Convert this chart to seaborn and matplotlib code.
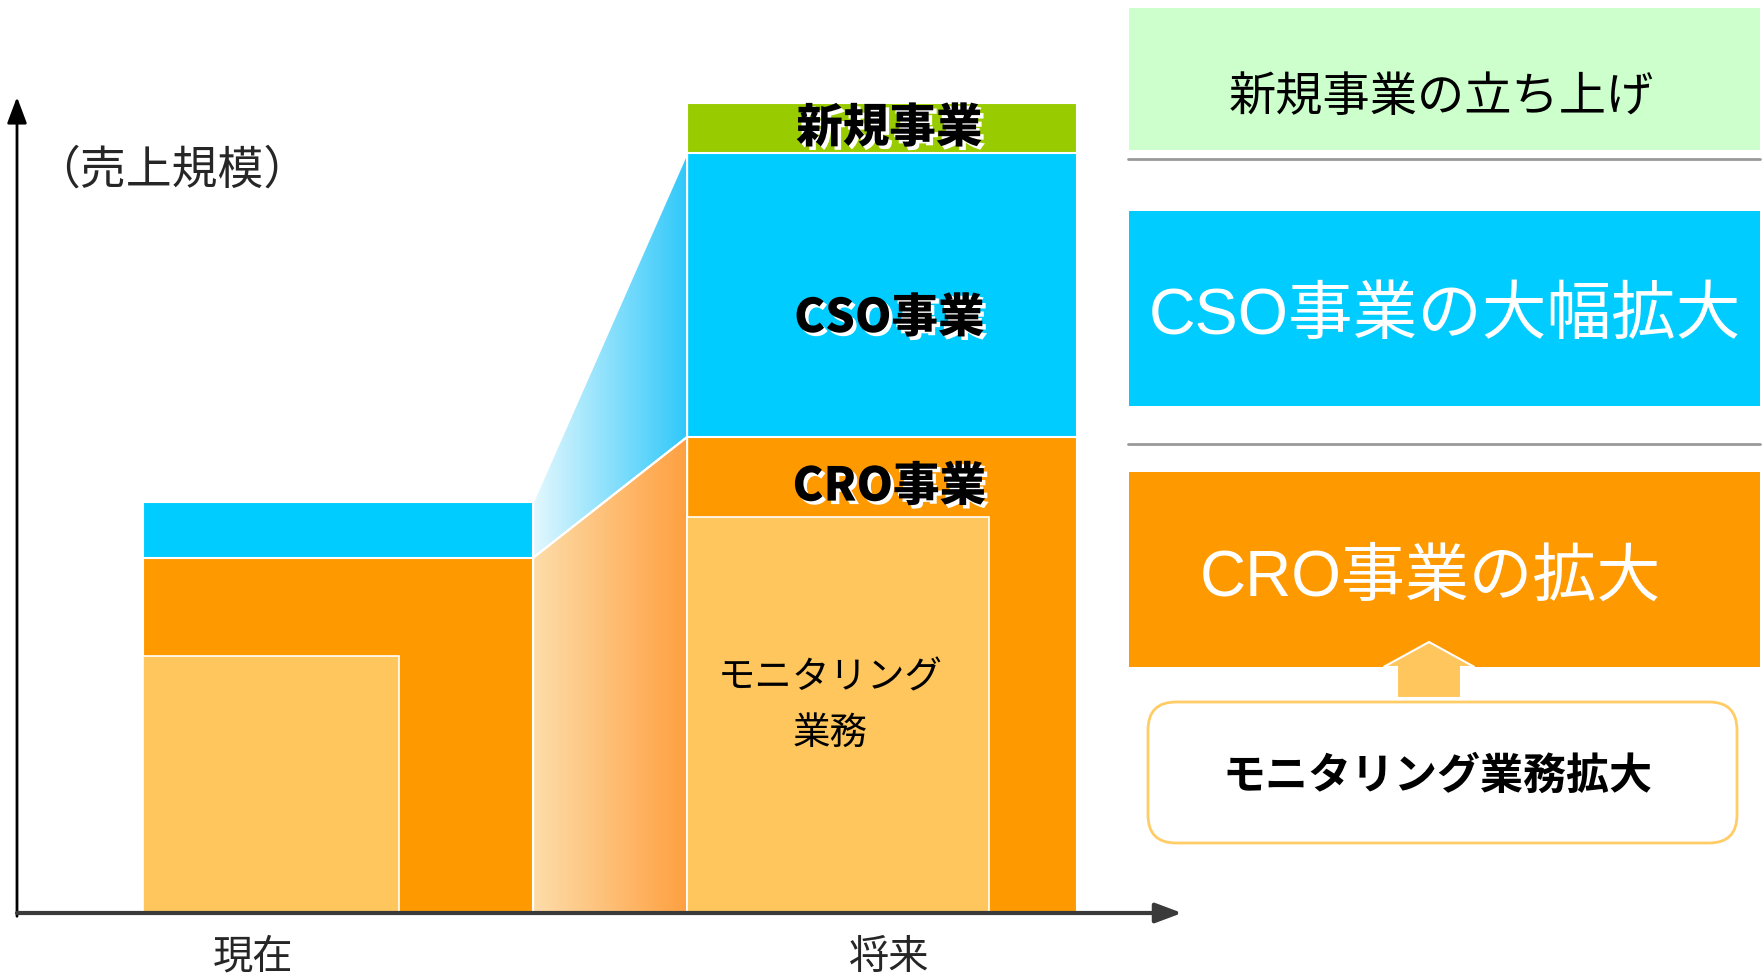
import matplotlib.pyplot as plt
import matplotlib.patches as mpatches
import matplotlib.patheffects as pe
from matplotlib.colors import LinearSegmentedColormap
import seaborn as sns
import pandas as pd
import numpy as np

# 売上規模 (現在の合計 = 100)
periods = ['現在', '将来']
monitoring = [62.5, 96.4]
cro_total = [86.4, 115.8]   # CRO事業 (モニタリング業務を含む)
cso = [13.6, 69.1]
new_biz = [0.0, 12.2]
inner_width = [0.47, 0.555]

bar_labels = ['新規事業', 'CSO事業', 'CRO事業']
bar_label_y = [190.8, 144.6, 103.6]
mon_label = 'モニタリング\n業務'
axis_title = '（売上規模）'
right_titles = ['新規事業の立ち上げ', 'CSO事業の大幅拡大', 'CRO事業の拡大']
right_sub = 'モニタリング業務拡大'

sns.set_style('white')
plt.rcParams['font.family'] = ['Noto Sans CJK JP', 'DejaVu Sans']

ORANGE = '#FF9900'
LIGHT = '#FEC65C'
BLUE = '#00CCFF'
GREEN = '#99CC00'

df = pd.DataFrame({'時期': periods, 'mon': monitoring, 'cro': cro_total,
                   'cso': cso, 'new': new_biz})
df['cso_top'] = df['cro'] + df['cso']
df['new_top'] = df['cso_top'] + df['new']

W, H = 1765, 974
fig = plt.figure(figsize=(W / 100, H / 100), dpi=100)
ax = fig.add_axes([17 / W, 61 / H, 1165 / W, 816 / H])
ax.patch.set_alpha(0)

bw = 0.717
# stacked bars, drawn back to front
for col, c in [('new_top', GREEN), ('cso_top', BLUE), ('cro', ORANGE)]:
    sns.barplot(data=df, x='時期', y=col, color=c, width=bw, saturation=1,
                edgecolor='white', linewidth=1.5, ax=ax, zorder=2)

# monitoring part, left aligned inside the CRO bar
xpos = np.arange(len(periods))
ax.bar(xpos - bw / 2, df['mon'], width=inner_width, align='edge',
       color=LIGHT, edgecolor='white', linewidth=1.2, zorder=3)

# gradient connectors between the two bars
x0, x1 = xpos[0] + bw / 2, xpos[1] - bw / 2


def grad_fill(verts, c0, c1):
    poly = mpatches.Polygon(verts, closed=True, facecolor='none',
                            edgecolor='white', lw=1.5, zorder=2.5)
    ax.add_patch(poly)
    cmap = LinearSegmentedColormap.from_list('g', [c0, c1])
    img = ax.imshow(np.linspace(0, 1, 256)[None, :], cmap=cmap,
                    extent=[x0, x1, 0, df['new_top'].max()], aspect='auto',
                    zorder=2.4, interpolation='bicubic')
    img.set_clip_path(poly)


grad_fill([(x0, df['cso_top'][0]), (x1, df['cso_top'][1]),
           (x1, df['cro'][1]), (x0, df['cro'][0])], '#E4F8FE', '#30C8FA')
grad_fill([(x0, df['cro'][0]), (x1, df['cro'][1]),
           (x1, 0), (x0, 0)], '#FDDDAA', '#FFA040')

ax.set_xlim(-0.59, 1.551)
ax.set_ylim(0, 198.5)
ax.set_xticks([])
ax.set_yticks([])
ax.set_xlabel('')
ax.set_ylabel('')
sns.despine(ax=ax, left=True, bottom=True)

# axis arrows
ax.annotate('', xy=(0, 1), xytext=(0, -0.004), xycoords='axes fraction',
            arrowprops=dict(arrowstyle='-|>,head_length=0.8,head_width=0.3',
                            color='black', lw=2, shrinkA=0, shrinkB=0,
                            mutation_scale=20), annotation_clip=False)
ax.annotate('', xy=(1, 0), xytext=(0, 0), xycoords='axes fraction',
            arrowprops=dict(arrowstyle='-|>,head_length=0.8,head_width=0.3',
                            color='#3A3A3A', lw=3, shrinkA=0, shrinkB=0,
                            mutation_scale=20), annotation_clip=False)

shadow = [pe.withSimplePatchShadow(offset=(2.5, -2.5), shadow_rgbFace='white',
                                   alpha=1.0)]
for lab, yy in zip(bar_labels, bar_label_y):
    ax.text(1.013, yy, lab, ha='center', va='center', fontsize=33.5,
            fontweight='black', color='black', path_effects=shadow, zorder=6)
ax.text(0.905, 50.5, mon_label, ha='center', va='center', fontsize=27,
        linespacing=1.55, color='black', zorder=6)

# overlay in pixel units for the right-hand panel and labels
ov = fig.add_axes([0, 0, 1, 1], zorder=5)
ov.set_xlim(0, W)
ov.set_ylim(H, 0)
ov.set_axis_off()

ov.text(172, 170, axis_title, ha='center', va='center', fontsize=33)
ov.text(253, 957, periods[0], ha='center', va='center', fontsize=29)
ov.text(889, 957, periods[1], ha='center', va='center', fontsize=29)

ov.add_patch(mpatches.Rectangle((1129, 8), 631, 142, fc='#CCFFCC', ec='none'))
ov.add_patch(mpatches.Rectangle((1129, 211), 631, 195, fc=BLUE, ec='none'))
ov.add_patch(mpatches.Rectangle((1129, 472), 631, 195, fc=ORANGE, ec='none'))
for yy in [159, 444]:
    ov.plot([1128, 1760], [yy, yy], color='#999999', lw=2)

latin_cjk = ['Liberation Sans', 'Noto Sans CJK JP']
ov.text(1441, 98, right_titles[0], ha='center', va='center', fontsize=34,
        color='black')
ov.text(1445, 317, right_titles[1], ha='center', va='center', fontsize=46.5,
        color='white', family=latin_cjk)
ov.text(1430, 579, right_titles[2], ha='center', va='center', fontsize=46,
        color='white', family=latin_cjk)

ov.add_patch(mpatches.FancyArrow(1429, 698, 0, -56, width=64, head_width=91,
                                 head_length=25, length_includes_head=True,
                                 fc=LIGHT, ec='white', lw=1.5))
ov.add_patch(mpatches.FancyBboxPatch((1148, 702), 589, 141,
                                     boxstyle='round,pad=0,rounding_size=28',
                                     fc='white', ec='#FFCC66', lw=2))
ov.text(1437, 776, right_sub, ha='center', va='center', fontsize=31,
        fontweight='bold', color='black')

fig.savefig('out.png', dpi=100)
